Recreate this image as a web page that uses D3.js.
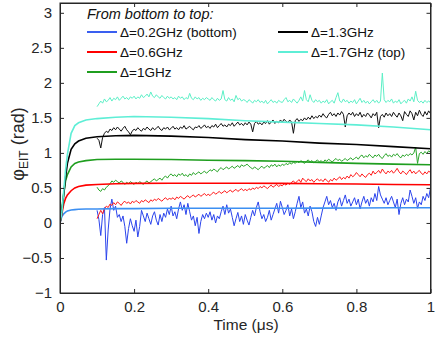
<!DOCTYPE html>
<html><head><meta charset="utf-8">
<script src="https://cdn.jsdelivr.net/npm/d3@7"></script>
<style>body{margin:0;background:#fff}svg{display:block}text{font-family:"Liberation Sans",Arial,sans-serif}</style>
</head><body><svg id="c" width="436" height="337"></svg>
<script>
// ---- data ----
const tSmooth = [0,0.005,0.01,0.015,0.02,0.03,0.04,0.05,0.07,0.1,0.15,0.2,0.3,0.4,0.5,0.6,0.7,0.8,0.9,1.0];
const smoothBlue  = [0,0.09,0.13,0.155,0.17,0.185,0.19,0.195,0.2,0.2,0.205,0.205,0.21,0.21,0.21,0.21,0.212,0.214,0.216,0.218];
const smoothRed   = [0,0.13,0.27,0.35,0.4,0.46,0.5,0.52,0.54,0.55,0.56,0.565,0.567,0.567,0.566,0.565,0.56,0.556,0.55,0.545];
const smoothGreen = [0,0.2,0.42,0.6,0.69,0.8,0.85,0.87,0.89,0.905,0.91,0.91,0.905,0.895,0.89,0.88,0.865,0.85,0.84,0.83];
const smoothBlack = [0,0.15,0.4,0.65,0.85,1.05,1.13,1.17,1.21,1.23,1.245,1.25,1.24,1.22,1.19,1.17,1.14,1.12,1.09,1.06];
const smoothCyan  = [0,0.15,0.45,0.75,0.98,1.28,1.39,1.43,1.47,1.49,1.51,1.52,1.51,1.49,1.46,1.44,1.42,1.40,1.37,1.33];

// measured traces, sampled every 0.005 µs from 0.1 to 1.0
const tNoisy = d3.range(0, 181).map(i => 0.1 + i * 0.005);
const noisyCyan = [
 1.66,1.70,1.74,1.71,1.77,1.73,1.75,1.79,1.74,1.78,1.76,1.80,1.75,1.78,1.81,1.77,1.79,1.76,1.80,1.78,
 1.81,1.77,1.80,1.78,1.83,1.79,1.81,1.84,1.80,1.87,1.81,1.79,1.83,1.80,1.78,1.82,1.79,1.77,1.81,1.78,
 1.80,1.77,1.79,1.76,1.81,1.78,1.80,1.76,1.79,1.77,1.85,1.78,1.76,1.80,1.77,1.79,1.75,1.78,1.76,1.79,
 1.77,1.75,1.79,1.76,1.74,1.78,1.75,1.77,1.89,1.76,1.74,1.79,1.75,1.77,1.73,1.82,1.76,1.78,1.74,1.76,
 1.75,1.72,1.76,1.74,1.71,1.75,1.73,1.76,1.72,1.74,1.71,1.75,1.70,1.73,1.76,1.72,1.74,1.71,1.75,1.73,
 1.72,1.76,1.79,1.73,1.75,1.72,1.77,1.74,1.71,1.75,1.80,1.74,1.89,1.76,1.73,1.83,1.75,1.72,1.76,1.73,
 1.75,1.71,1.74,1.72,1.76,1.70,1.73,1.75,1.71,1.79,1.86,1.74,1.72,1.77,1.73,1.75,1.71,1.74,1.72,1.76,
 1.70,1.74,1.78,1.72,1.75,1.71,1.74,1.70,1.73,1.76,1.72,1.75,1.71,1.74,2.14,1.76,1.72,1.75,1.73,1.77,
 1.71,1.74,1.72,1.76,1.70,1.73,1.75,1.71,1.77,1.74,1.80,1.73,1.88,1.75,1.72,1.74,1.71,1.75,1.72,1.74,
 1.72];
const noisyBlack = [
 1.21,1.18,1.07,1.22,1.28,1.31,1.29,1.34,1.32,1.36,1.33,1.37,1.34,1.31,1.35,1.38,1.33,1.30,1.26,1.31,
 1.34,1.32,1.36,1.33,1.31,1.35,1.33,1.37,1.34,1.32,1.36,1.33,1.35,1.38,1.34,1.32,1.36,1.34,1.37,1.33,
 1.35,1.38,1.34,1.36,1.33,1.37,1.35,1.39,1.34,1.36,1.38,1.35,1.33,1.37,1.36,1.39,1.35,1.37,1.40,1.36,
 1.38,1.35,1.39,1.37,1.41,1.36,1.39,1.42,1.38,1.40,1.37,1.41,1.39,1.43,1.38,1.41,1.44,1.40,1.42,1.39,
 1.43,1.40,1.44,1.41,1.30,1.42,1.45,1.41,1.43,1.40,1.44,1.42,1.46,1.41,1.44,1.47,1.42,1.45,1.43,1.47,
 1.44,1.48,1.45,1.43,1.47,1.44,1.28,1.46,1.49,1.45,1.48,1.46,1.50,1.47,1.51,1.48,1.53,1.49,1.52,1.50,
 1.54,1.51,1.56,1.52,1.50,1.55,1.58,1.53,1.56,1.52,1.57,1.54,1.59,1.55,1.37,1.53,1.57,1.54,1.58,1.52,
 1.56,1.53,1.58,1.51,1.55,1.52,1.57,1.54,1.50,1.56,1.53,1.58,1.36,1.52,1.55,1.51,1.57,1.53,1.56,1.52,
 1.58,1.54,1.51,1.57,1.53,1.46,1.59,1.55,1.52,1.60,1.56,1.47,1.58,1.53,1.61,1.55,1.52,1.59,1.54,1.60,
 1.56];
const noisyGreen = [
 0.51,0.47,0.45,0.49,0.47,0.51,0.53,0.56,0.60,0.58,0.61,0.59,0.57,0.60,0.58,0.55,0.58,0.56,0.59,0.57,
 0.55,0.58,0.56,0.59,0.57,0.55,0.58,0.60,0.57,0.59,0.61,0.63,0.60,0.62,0.64,0.61,0.65,0.67,0.64,0.68,
 0.70,0.67,0.69,0.66,0.70,0.68,0.71,0.67,0.69,0.66,0.70,0.68,0.72,0.69,0.71,0.73,0.70,0.72,0.74,0.71,
 0.73,0.76,0.74,0.77,0.75,0.73,0.77,0.79,0.76,0.78,0.80,0.77,0.79,0.81,0.78,0.80,0.82,0.79,0.83,0.81,
 0.82,0.84,0.81,0.79,0.77,0.80,0.78,0.76,0.79,0.81,0.78,0.80,0.82,0.79,0.83,0.81,0.84,0.80,0.83,0.81,
 0.84,0.82,0.85,0.83,0.86,0.84,0.87,0.85,0.88,0.86,0.89,0.87,0.85,0.88,0.90,0.87,0.89,0.86,0.88,0.90,
 0.87,0.89,0.86,0.90,0.88,0.91,0.89,0.87,0.90,0.92,0.89,0.91,0.88,0.90,0.92,0.89,0.91,0.93,0.90,0.92,
 0.94,0.91,0.95,0.97,0.93,0.96,0.94,0.98,0.95,0.93,0.97,0.95,0.98,0.94,0.92,0.96,0.99,0.95,0.97,0.94,
 0.98,0.96,0.99,0.95,0.93,0.97,0.95,0.98,0.96,0.99,0.97,1.00,1.08,0.85,0.99,1.01,0.98,1.02,0.99,1.03,
 1.01];
const noisyRed = [
 0.06,0.12,0.18,0.13,0.20,0.24,0.22,0.27,0.25,0.29,0.26,0.30,0.28,0.25,0.29,0.31,0.28,0.30,0.27,0.31,
 0.29,0.32,0.30,0.28,0.32,0.30,0.33,0.31,0.29,0.33,0.31,0.34,0.32,0.35,0.33,0.31,0.34,0.36,0.33,0.35,
 0.34,0.36,0.33,0.37,0.35,0.38,0.36,0.34,0.37,0.39,0.36,0.38,0.40,0.37,0.39,0.41,0.38,0.40,0.42,0.39,
 0.41,0.39,0.42,0.44,0.41,0.43,0.45,0.42,0.44,0.46,0.43,0.45,0.47,0.44,0.46,0.48,0.45,0.47,0.49,0.46,
 0.48,0.46,0.49,0.47,0.50,0.48,0.51,0.49,0.52,0.50,0.53,0.51,0.49,0.52,0.54,0.51,0.53,0.55,0.52,0.54,
 0.53,0.56,0.54,0.57,0.55,0.58,0.60,0.57,0.59,0.62,0.58,0.64,0.61,0.59,0.63,0.60,0.62,0.58,0.61,0.63,
 0.60,0.62,0.59,0.63,0.61,0.58,0.62,0.60,0.64,0.61,0.63,0.66,0.62,0.65,0.63,0.67,0.64,0.69,0.66,0.68,
 0.72,0.69,0.66,0.70,0.67,0.65,0.69,0.71,0.68,0.74,0.70,0.72,0.75,0.71,0.77,0.73,0.70,0.74,0.72,0.75,
 0.71,0.74,0.78,0.73,0.70,0.74,0.72,0.69,0.73,0.76,0.71,0.74,0.70,0.73,0.75,0.71,0.69,0.73,0.70,0.74,
 0.72];
const noisyBlue = [
 0.18,0.05,-0.18,0.12,0.22,-0.53,-0.10,0.20,0.34,0.18,0.24,0.08,0.12,0.02,0.10,-0.05,-0.29,-0.08,0.06,-0.04,
 -0.12,0.04,-0.20,-0.05,0.18,0.10,0.02,0.14,0.06,-0.02,0.10,0.16,0.04,-0.03,0.12,0.02,0.14,0.08,0.20,0.12,
 0.24,0.10,0.16,0.06,0.20,0.30,0.18,0.26,0.12,0.28,0.16,0.04,0.10,-0.04,0.08,-0.15,0.02,0.12,0.06,0.14,
 0.08,0.16,0.04,0.12,0.00,0.10,0.06,0.16,0.24,0.12,0.26,0.14,0.20,0.08,-0.04,0.06,0.15,0.02,0.10,-0.02,
 0.12,0.04,-0.03,0.08,0.18,0.10,0.22,0.30,0.16,0.06,0.12,0.02,0.08,0.18,0.04,0.12,0.20,0.28,0.14,0.31,
 0.22,0.12,0.18,0.26,0.10,0.20,0.06,0.16,0.28,0.38,0.22,0.30,0.14,0.20,0.10,0.24,0.16,0.02,-0.05,0.08,
 -0.02,0.10,0.22,0.30,0.38,0.26,0.32,0.22,0.28,0.18,0.30,0.36,0.24,0.32,0.40,0.28,0.34,0.24,0.30,0.36,
 0.26,0.34,0.20,0.30,0.38,0.28,0.34,0.24,0.36,0.30,0.42,0.32,0.52,0.40,0.34,0.28,0.36,0.26,0.32,0.38,
 0.30,0.22,0.34,0.12,0.28,0.36,0.26,0.34,0.30,0.47,0.38,0.28,0.36,0.21,0.30,0.26,0.38,0.32,0.42,0.36,
 0.50];

const xTicks = [0,0.2,0.4,0.6,0.8,1];
const yTicks = [-1,-0.5,0,0.5,1,1.5,2,2.5,3];
const legendTitle = "From bottom to top:";
const legendLabels = ["Δ=0.2GHz (bottom)","Δ=0.6GHz","Δ=1GHz","Δ=1.3GHz","Δ=1.7GHz (top)"];

// ---- styles ----
const colNoisy  = ["#2b44ec","#ff1a1a","#2aa52a","#111111","#5cefc6"];
const colSmooth = ["#3c8ff2","#ff0000","#1f9e1f","#000000","#5eeed6"];
const colLegend = ["#3a5ff0","#ff0000","#1f9e1f","#000000","#5eeed6"];

const svg = d3.select("#c");
svg.append("rect").attr("width",436).attr("height",337).attr("fill","#fff");
const L=60, R=430.5, T=3, B=293;
const x = d3.scaleLinear().domain([0,1]).range([L,R]);
const y = d3.scaleLinear().domain([-1,3.14]).range([B,T]);

svg.append("defs").append("clipPath").attr("id","clip").append("rect")
  .attr("x",L).attr("y",T).attr("width",R-L).attr("height",B-T);

const g = svg.append("g").attr("clip-path","url(#clip)");
const line = d3.line().x(d=>x(d[0])).y(d=>y(d[1]));

const noisy = [noisyBlue,noisyRed,noisyGreen,noisyBlack,noisyCyan];
const smooth = [smoothBlue,smoothRed,smoothGreen,smoothBlack,smoothCyan];
noisy.forEach((s,i)=>{
  g.append("path").attr("d",line(tNoisy.map((t,j)=>[t,s[j]])))
   .attr("fill","none").attr("stroke",colNoisy[i]).attr("stroke-width",1).attr("stroke-linejoin","round");
});
smooth.forEach((s,i)=>{
  g.append("path").attr("d",line(tSmooth.map((t,j)=>[t,s[j]])))
   .attr("fill","none").attr("stroke",colSmooth[i]).attr("stroke-width",1.6);
});

// ---- axes ----
const ax = svg.append("g");
const fmt = d => d3.format("")(d);
ax.append("g").attr("transform",`translate(0,${B})`)
  .call(d3.axisBottom(x).tickValues(xTicks).tickSizeInner(-4).tickSizeOuter(0).tickPadding(8).tickFormat(fmt));
ax.append("g").attr("transform",`translate(0,${T})`)
  .call(d3.axisTop(x).tickValues(xTicks).tickSizeInner(-4).tickSizeOuter(0).tickFormat(""));
ax.append("g").attr("transform",`translate(${L},0)`)
  .call(d3.axisLeft(y).tickValues(yTicks).tickSizeInner(-4).tickSizeOuter(0).tickPadding(8).tickFormat(fmt));
ax.append("g").attr("transform",`translate(${R},0)`)
  .call(d3.axisRight(y).tickValues(yTicks).tickSizeInner(-4).tickSizeOuter(0).tickFormat(""));
ax.selectAll(".domain").attr("stroke","#262626");
ax.selectAll(".tick line").attr("stroke","#262626");
ax.selectAll(".tick text").attr("fill","#262626").style("font-size","15px").style("font-family","'Liberation Sans',Arial,sans-serif");
svg.append("rect").attr("x",L).attr("y",T).attr("width",R-L).attr("height",B-T)
  .attr("fill","none").attr("stroke","#262626").attr("stroke-width",1);

// ---- labels ----
svg.append("text").attr("x",246).attr("y",330).attr("text-anchor","middle")
  .style("font-size","15.5px").attr("fill","#262626").text("Time (μs)");
const yl = svg.append("text").attr("transform","translate(24,144) rotate(-90)").attr("text-anchor","middle")
  .style("font-size","18px").attr("fill","#262626");
yl.append("tspan").text("φ");
yl.append("tspan").attr("dy",4).style("font-size","12px").text("EIT");
yl.append("tspan").attr("dy",-4).text(" (rad)");

// ---- legend ----
const lg = svg.append("g");
lg.append("text").attr("x",87).attr("y",19).style("font-size","14.5px").style("font-style","italic")
  .attr("fill","#111").text(legendTitle);
const pos = [[87,32],[87,52],[87,72],[278,32],[278,52]];
legendLabels.forEach((lab,i)=>{
  const [lx,ly]=pos[i];
  lg.append("line").attr("x1",lx).attr("x2",lx+30).attr("y1",ly).attr("y2",ly)
    .attr("stroke",colLegend[i]).attr("stroke-width",2);
  lg.append("text").attr("x",lx+33).attr("y",ly+5).style("font-size","13.5px").attr("fill","#111").text(lab);
});
</script></body></html>
